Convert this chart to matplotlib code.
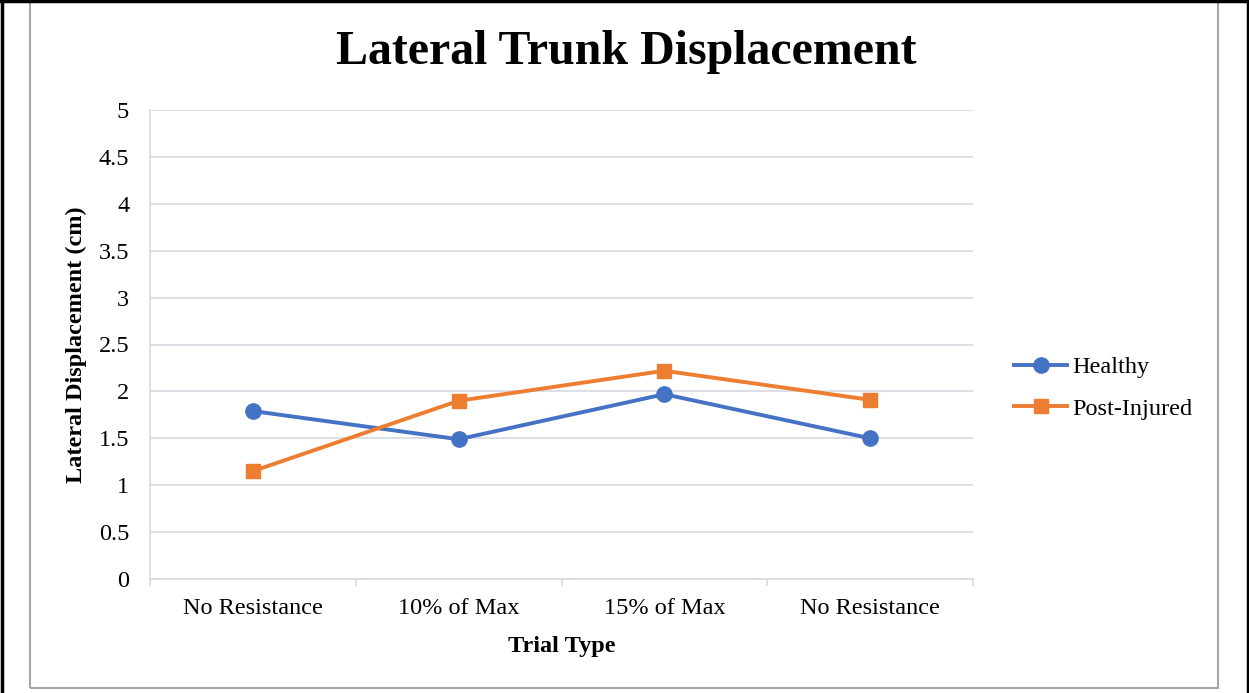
import matplotlib
matplotlib.use("Agg")
import matplotlib.pyplot as plt
from matplotlib.lines import Line2D
from matplotlib.patches import Rectangle

# Data
categories = ["No Resistance", "10% of Max", "15% of Max", "No Resistance"]
healthy = [1.79, 1.49, 1.97, 1.50]
post_injured = [1.15, 1.90, 2.22, 1.91]
y_ticks = [0, 0.5, 1, 1.5, 2, 2.5, 3, 3.5, 4, 4.5, 5]
y_tick_labels = ["0", "0.5", "1", "1.5", "2", "2.5", "3", "3.5", "4", "4.5", "5"]

plt.rcParams["font.family"] = ["Liberation Serif", "DejaVu Serif"]

W, H = 1249, 693
fig = plt.figure(figsize=(W / 100, H / 100), dpi=100)
fig.patch.set_facecolor("white")

def px(x0, y0, x1, y1):
    return [x0 / W, 1 - y1 / H, (x1 - x0) / W, (y1 - y0) / H]

ax = fig.add_axes(px(150, 110, 973, 579))
x = list(range(len(categories)))

grid_col = "#D9DDE4"
for yv in y_ticks:
    ax.axhline(yv, color=grid_col, lw=1.3, zorder=0)

h_line, = ax.plot(x, healthy, color="#4472C4", lw=2.8, marker="o", ms=11,
                  label="Healthy", zorder=3)
p_line, = ax.plot(x, post_injured, color="#ED7D31", lw=2.8, marker="s", ms=10,
                  label="Post-Injured", zorder=3)

ax.set_xlim(-0.5, len(categories) - 0.5)
ax.set_ylim(0, 5)
for s in ["top", "right"]:
    ax.spines[s].set_visible(False)
ax.spines["left"].set_color(grid_col)
ax.spines["bottom"].set_color(grid_col)
ax.spines["left"].set_linewidth(1.3)
ax.spines["bottom"].set_linewidth(1.3)

ax.set_yticks(y_ticks)
ax.set_yticklabels(y_tick_labels)
ax.tick_params(axis="y", length=0, pad=15, labelsize=17.5, labelcolor="black")

ax.set_xticks([i - 0.5 for i in range(len(categories) + 1)])
ax.set_xticklabels([])
ax.tick_params(axis="x", which="major", length=5, width=1.3, color=grid_col)
ax.set_xticks(x, minor=True)
ax.set_xticklabels(categories, minor=True)
ax.tick_params(axis="x", which="minor", length=0, pad=14, labelsize=17.5)

ax.set_xlabel("Trial Type", fontsize=17.5, fontweight="bold", labelpad=12)
ax.set_ylabel("Lateral Displacement (cm)", fontsize=17.5, fontweight="bold",
              labelpad=8)

fig.text(626 / W, 1 - 52 / H, "Lateral Trunk Displacement", fontsize=34.5,
         fontweight="bold", ha="center", va="center")

fig.legend(handles=[h_line, p_line], loc="center left",
           bbox_to_anchor=(1014 / W, 1 - 388 / H), frameon=False,
           fontsize=17.5, handlelength=2.2, handletextpad=0.2,
           labelspacing=0.8, borderpad=0, borderaxespad=0)

# Chart frame and page border
fig.add_artist(Rectangle((30 / W, 1 - 688 / H), (1218 - 30) / W, 690 / H,
                         transform=fig.transFigure, fill=False,
                         edgecolor="#A6A6A6", lw=1.5))
fig.add_artist(Line2D([1.5 / W, 1.5 / W], [0, 1], transform=fig.transFigure,
                      color="black", lw=2.5))
fig.add_artist(Line2D([0, 1], [1 - 1 / H, 1 - 1 / H], transform=fig.transFigure,
                      color="black", lw=2.5))
fig.add_artist(Line2D([1 - 1.5 / W, 1 - 1.5 / W], [0, 1],
                      transform=fig.transFigure, color="black", lw=2.5))

fig.savefig("out.png", dpi=100, facecolor="white")
